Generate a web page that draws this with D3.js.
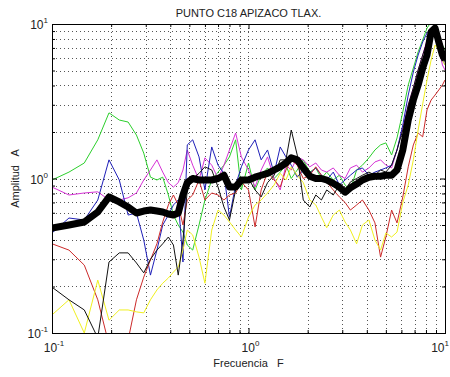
<!DOCTYPE html>
<meta charset="utf-8">
<head>
    <script src="https://d3js.org/d3.v7.min.js"></script>
    <style>
        body { margin: 0; background: #fff; }
        text { font-family: "Liberation Sans", Arial, sans-serif; fill: #222; }
    </style>
</head>
<body>
<div id="chart"></div>
<script>
    // frequency grid (Hz)
    const freq = [0.1, 0.122, 0.146, 0.171, 0.195, 0.22, 0.244, 0.269, 0.293, 0.317, 0.342, 0.366, 0.391, 0.415, 0.439, 0.464, 0.488,
        0.52, 0.56, 0.6, 0.65, 0.7, 0.75, 0.8, 0.86, 0.92, 1.0, 1.08, 1.16, 1.25, 1.35, 1.45, 1.55, 1.65, 1.77, 1.9,
        2.05, 2.2, 2.35, 2.5, 2.7, 2.9, 3.1, 3.3, 3.55, 3.8, 4.1, 4.4, 4.7, 5.0, 5.35, 5.7, 6.1, 6.5, 6.9, 7.3, 7.7,
        8.1, 8.5, 8.9, 9.3, 9.7, 10]

    // spectral ratios per record
    const green = [0.978, 1.1, 1.26, 1.78, 2.66, 2.39, 2.32, 1.91, 1.46, 1.02, 0.978, 1.02, 0.782, 0.58, 0.5, 0.45, 0.371,
        0.344, 0.5, 0.726, 0.978, 1.1, 1.22, 1.38, 1.78, 0.843, 1.26, 0.843, 1.05, 1.17, 1.0, 1.1, 1.22, 1.0, 1.135, 1.32,
        1.1, 1.17, 1.0, 1.1, 0.978, 1.05, 0.908, 0.843, 1.135, 1.22, 1.36, 1.53, 1.65, 1.7, 1.42, 1.83, 2.7, 4.03, 5.19, 6.6, 7.88,
        9.4, 10.3, 10.3, 8.49, 7.31, 6.79]
    const magenta = [0.88, 0.782, 0.806, 0.82, 0.726, 0.726, 0.75, 0.806, 0.978, 1.135, 1.32, 1.1, 0.94, 0.88, 0.94, 1.135, 1.53,
        1.22, 0.978, 1.36, 1.22, 1.0, 1.22, 1.53, 1.97, 1.38, 1.135, 0.88, 1.135, 1.38, 1.0, 0.843, 1.22, 1.135, 1.38, 1.32,
        1.19, 1.26, 1.135, 1.1, 1.17, 1.05, 1.0, 1.17, 1.22, 1.1, 1.17, 1.28, 1.32, 1.22, 1.17, 1.53, 2.13, 2.99, 3.86, 5.04, 6.3,
        7.88, 9.4, 9.85, 7.31, 5.43, 5.04]
    const blue = [0.444, 0.555, 0.539, 0.726, 1.32, 0.978, 0.58, 0.598, 0.4, 0.237, 0.344, 0.5, 0.58, 0.674, 0.726, 0.288, 1.65,
        1.78, 1.38, 0.843, 1.6, 1.22, 1.08, 0.563, 0.908, 1.19, 1.53, 1.78, 1.32, 1.53, 1.08, 1.6, 1.38, 1.22, 1.02, 1.135,
        1.08, 1.17, 1.05, 0.978, 1.1, 0.908, 0.978, 1.05, 1.135, 1.17, 1.05, 1.1, 1.135, 1.17, 1.22, 1.53, 2.22, 3.47, 4.89, 6.3, 7.65,
        8.75, 9.4, 9.15, 7.31, 5.95, 5.43]
    const red = [0.378, 0.344, 0.275, 0.164, 0.084, 0.084, 0.09, 0.164, 0.23, 0.297, 0.378, 0.523, 0.674, 0.782, 0.674, 0.5, 0.726,
        0.782, 0.978, 0.726, 0.806, 0.782, 0.726, 0.782, 0.806, 0.95, 0.843, 0.486, 0.843, 1.1, 0.978, 0.88, 1.135, 1.32, 1.22, 1.0,
        1.05, 1.19, 1.05, 0.95, 0.843, 0.76, 0.7, 0.625, 0.674, 0.726, 0.625, 0.516, 0.31, 0.418, 0.625, 0.516, 0.76, 1.19, 1.65, 1.97, 1.86,
        2.78, 3.22, 3.47, 3.74, 4.03, 4.34]
    const black = [0.198, 0.164, 0.141, 0.093, 0.288, 0.33, 0.33, 0.284, 0.245, 0.3, 0.344, 0.378, 0.418, 0.371, 0.237, 0.4, 0.843,
        1.0, 1.08, 1.19, 1.135, 0.88, 0.654, 0.539, 0.843, 0.978, 1.0, 0.843, 0.76, 0.94, 1.05, 1.32, 1.32, 2.06, 1.42, 0.726,
        0.654, 0.782, 0.726, 0.843, 0.782, 0.908, 0.843, 0.95, 1.0, 1.05, 1.1, 1.05, 1.135, 1.1, 1.22, 1.53, 2.06, 2.99, 3.86, 5.04, 6.3,
        7.65, 8.9, 9.4, 7.65, 6.3, 5.68]
    const yellow = [0.131, 0.164, 0.1, 0.22, 0.121, 0.141, 0.141, 0.137, 0.135, 0.164, 0.19, 0.21, 0.227, 0.248, 0.267, 0.344, 0.464,
        0.431, 0.31, 0.21, 0.464, 0.625, 0.58, 0.523, 0.464, 0.418, 0.563, 0.674, 0.726, 0.806, 0.908, 1.08, 0.978, 1.19, 1.05, 0.94,
        0.726, 0.674, 0.563, 0.48, 0.58, 0.625, 0.523, 0.464, 0.378, 0.5, 0.539, 0.4, 0.344, 0.444, 0.418, 0.45, 0.7, 0.908, 1.32, 2.06, 3.04,
        4.34, 5.85, 7.31, 6.79, 5.85, 5.43]
    const average = [0.478, 0.5, 0.523, 0.607, 0.759, 0.705, 0.654, 0.598, 0.616, 0.625, 0.616, 0.607, 0.589, 0.58, 0.598, 0.782, 0.94,
        1.0, 0.978, 0.978, 0.978, 1.0, 1.05, 0.88, 0.88, 0.978, 0.978, 1.02, 1.05, 1.08, 1.135, 1.19, 1.26, 1.36, 1.32, 1.17,
        1.035, 1.0, 1.0, 0.978, 0.93, 0.88, 0.815, 0.87, 0.92, 0.978, 1.02, 1.035, 1.035, 1.05, 1.05, 1.135, 1.53, 2.39, 3.22, 4.03, 5.19,
        6.3, 8.9, 9.4, 7.65, 6.3, 5.85]

    const majorTicks = [0.1, 1, 10]
    const tickExp = ["-1", "0", "1"]
    const minorTicks = [0.2, 0.3, 0.4, 0.5, 0.6, 0.7, 0.8, 0.9, 2, 3, 4, 5, 6, 7, 8, 9]

    const series = [
        { values: green, color: "#2ccf2c" },
        { values: magenta, color: "#d633d6" },
        { values: blue, color: "#1f1fb8" },
        { values: red, color: "#cc2a2a" },
        { values: yellow, color: "#f0f020" },
        { values: black, color: "#111" }
    ]

    const width = 450, height = 377
    const plotLeft = 52, plotRight = 445, plotTop = 24, plotBottom = 333

    const svg = d3.select("#chart").append("svg")
        .attr("width", width)
        .attr("height", height)

    const x = d3.scaleLog().domain([0.1, 10]).range([plotLeft, plotRight])
    const y = d3.scaleLog().domain([0.1, 10]).range([plotBottom, plotTop])

    // dotted grid on every decade step
    const grid = svg.append("g")
        .attr("stroke", "#555")
        .attr("stroke-width", 1)
        .attr("stroke-dasharray", "1,3")
    const allTicks = majorTicks.concat(minorTicks).filter(d => d > 0.1 && d < 10)
    grid.selectAll("line.v").data(allTicks).enter().append("line")
        .attr("x1", d => Math.round(x(d)) + 0.5).attr("x2", d => Math.round(x(d)) + 0.5)
        .attr("y1", plotTop).attr("y2", plotBottom)
    grid.selectAll("line.h").data(allTicks).enter().append("line")
        .attr("y1", d => Math.round(y(d)) + 0.5).attr("y2", d => Math.round(y(d)) + 0.5)
        .attr("x1", plotLeft).attr("x2", plotRight)

    svg.append("clipPath").attr("id", "plot")
        .append("rect")
        .attr("x", plotLeft).attr("y", plotTop)
        .attr("width", plotRight - plotLeft).attr("height", plotBottom - plotTop)

    const line = d3.line()
        .x((d, i) => x(freq[i]))
        .y(d => y(d))

    const lines = svg.append("g").attr("clip-path", "url(#plot)")
    series.forEach(s => {
        lines.append("path")
            .datum(s.values)
            .attr("fill", "none")
            .attr("stroke", s.color)
            .attr("stroke-width", 1)
            .attr("d", line)
    })
    lines.append("path")
        .datum(average)
        .attr("fill", "none")
        .attr("stroke", "#000")
        .attr("stroke-width", 7)
        .attr("stroke-linejoin", "round")
        .attr("d", line)

    // axes: ticks inside on all four sides
    function ticks(axis, pos, values, size) {
        svg.append("g").attr("transform", pos)
            .call(axis.tickValues(values).tickSize(-size).tickFormat(""))
    }
    ticks(d3.axisBottom(x), `translate(0, ${plotBottom})`, majorTicks, 5)
    ticks(d3.axisBottom(x), `translate(0, ${plotBottom})`, minorTicks, 3)
    ticks(d3.axisTop(x), `translate(0, ${plotTop})`, majorTicks, 5)
    ticks(d3.axisTop(x), `translate(0, ${plotTop})`, minorTicks, 3)
    ticks(d3.axisLeft(y), `translate(${plotLeft}, 0)`, majorTicks, 5)
    ticks(d3.axisLeft(y), `translate(${plotLeft}, 0)`, minorTicks, 3)
    ticks(d3.axisRight(y), `translate(${plotRight}, 0)`, majorTicks, 5)
    ticks(d3.axisRight(y), `translate(${plotRight}, 0)`, minorTicks, 3)
    svg.selectAll(".domain").remove()
    svg.selectAll(".tick line").attr("stroke", "#000")

    svg.append("rect")
        .attr("x", plotLeft + 0.5).attr("y", plotTop + 0.5)
        .attr("width", plotRight - plotLeft).attr("height", plotBottom - plotTop)
        .attr("fill", "none")
        .attr("stroke", "#000")

    // tick labels 10^n (last x label pulled in so it stays inside the page)
    majorTicks.forEach((d, i) => {
        const last = i === majorTicks.length - 1
        const tx = svg.append("text")
            .attr("x", last ? width - 1 : x(d) + 2)
            .attr("y", plotBottom + 19)
            .attr("text-anchor", last ? "end" : "middle")
            .attr("font-size", 12)
        tx.append("tspan").text("10")
        tx.append("tspan").attr("dy", -6).attr("font-size", 8).text(tickExp[i])

        const ty = svg.append("text")
            .attr("x", plotLeft - 4)
            .attr("y", y(d) + 5)
            .attr("text-anchor", "end")
            .attr("font-size", 12)
        ty.append("tspan").text("10")
        ty.append("tspan").attr("dy", -6).attr("font-size", 8).text(tickExp[i])
    })

    svg.append("text")
        .attr("x", (plotLeft + plotRight) / 2)
        .attr("y", 17)
        .attr("text-anchor", "middle")
        .attr("font-size", 11)
        .text("PUNTO C18 APIZACO TLAX.")

    svg.append("text")
        .attr("x", (plotLeft + plotRight) / 2)
        .attr("y", 367)
        .attr("text-anchor", "middle")
        .attr("font-size", 11)
        .attr("xml:space", "preserve")
        .text("Frecuencia   F")

    svg.append("text")
        .attr("transform", `translate(19, ${(plotTop + plotBottom) / 2}) rotate(-90)`)
        .attr("text-anchor", "middle")
        .attr("font-size", 11)
        .attr("xml:space", "preserve")
        .text("Amplitud   A")
</script>
</body>
